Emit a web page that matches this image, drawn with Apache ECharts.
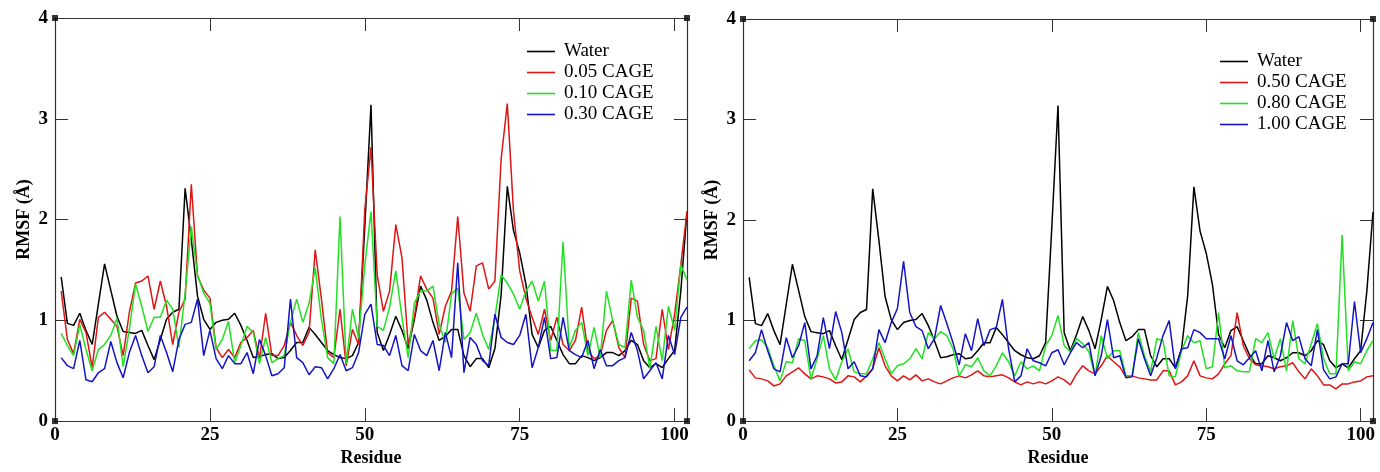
<!DOCTYPE html>
<html>
<head>
<meta charset="utf-8">
<script src="https://cdn.jsdelivr.net/npm/echarts@6/dist/echarts.min.js"></script>
<style>
html,body{margin:0;padding:0;background:#fff;}
#chart{width:1380px;height:472px;}
</style>
</head>
<body>
<div id="chart"></div>
<script>
// ---- data (RMSF in Å per residue 1..102) ----
const xTicks = [0, 25, 50, 75, 100];
const yTicks = [0, 1, 2, 3, 4];
const X_MAX = 102;
const Y_MAX = 4;

const water = [
  1.43,0.97,0.95,1.07,0.90,0.76,1.16,1.56,1.30,1.04,
  0.89,0.88,0.87,0.90,0.75,0.61,0.81,1.01,1.08,1.11,
  2.31,1.80,1.24,1.01,0.91,0.98,1.00,1.01,1.07,0.95,
  0.80,0.63,0.64,0.66,0.67,0.62,0.63,0.70,0.78,0.78,
  0.93,0.86,0.78,0.70,0.66,0.63,0.62,0.65,0.78,1.93,
  3.14,0.88,0.70,0.86,1.04,0.90,0.72,1.01,1.34,1.20,
  0.98,0.80,0.84,0.91,0.91,0.65,0.54,0.62,0.62,0.53,
  0.72,1.25,2.33,1.89,1.67,1.36,0.86,0.73,0.90,0.94,
  0.80,0.66,0.57,0.57,0.65,0.63,0.60,0.63,0.68,0.68,
  0.65,0.70,0.80,0.76,0.60,0.53,0.57,0.53,0.62,0.70,
  1.29,2.08
];
const cage005 = [
  1.29,0.81,0.67,1.01,0.88,0.53,1.03,1.08,1.01,0.94,
  0.65,1.08,1.37,1.39,1.44,1.11,1.39,1.14,0.76,1.08,
  1.21,2.35,1.44,1.30,1.22,0.73,0.63,0.71,0.63,0.78,
  0.83,0.90,0.62,1.07,0.65,0.65,0.75,0.98,0.85,0.75,
  0.88,1.70,1.21,0.68,0.63,1.11,0.55,0.91,0.76,2.10,
  2.72,1.45,1.09,1.29,1.95,1.62,0.76,1.03,1.44,1.31,
  1.22,0.86,1.14,1.29,2.03,1.27,1.09,1.54,1.57,1.31,
  1.39,2.60,3.15,2.08,1.49,1.22,1.03,0.86,1.11,0.80,
  1.03,0.76,0.70,0.80,1.13,0.70,0.62,0.65,0.90,1.00,
  0.73,0.63,1.22,1.19,0.76,0.60,0.62,1.11,0.71,1.06,
  1.55,2.08
];
const cage010 = [
  0.87,0.75,0.65,0.96,0.71,0.50,0.71,0.76,0.85,1.02,
  0.54,0.91,1.36,1.14,0.89,1.03,1.03,1.20,1.11,0.73,
  1.27,1.93,1.45,1.27,1.17,0.71,0.81,0.99,0.58,0.75,
  0.94,0.88,0.57,0.83,0.58,0.62,0.65,0.98,1.21,0.98,
  1.17,1.52,1.01,0.63,0.57,2.03,0.57,1.11,0.82,1.55,
  2.08,0.94,0.90,1.13,1.49,1.03,0.63,1.17,1.29,1.29,
  1.34,0.96,0.78,1.26,1.32,0.81,0.88,1.07,0.86,0.71,
  1.03,1.45,1.37,1.26,1.11,1.29,1.39,1.19,1.39,0.70,
  0.70,1.78,0.73,0.90,0.98,0.65,0.93,0.63,1.29,1.00,
  0.76,0.73,1.40,1.03,0.90,0.52,0.94,0.60,1.14,0.90,
  1.55,1.40
];
const cage030 = [
  0.63,0.55,0.52,0.80,0.41,0.39,0.48,0.52,0.79,0.58,
  0.43,0.68,0.85,0.65,0.48,0.54,0.85,0.68,0.49,0.81,
  0.96,0.98,1.21,0.65,0.90,0.62,0.52,0.65,0.57,0.57,
  0.68,0.47,0.81,0.65,0.45,0.47,0.53,1.21,0.63,0.58,
  0.46,0.54,0.53,0.42,0.52,0.66,0.50,0.53,0.68,1.06,
  1.16,0.76,0.75,0.65,0.85,0.55,0.50,0.86,0.70,0.65,
  0.80,0.50,0.88,0.63,1.57,0.48,0.83,0.76,0.60,0.55,
  1.06,0.83,0.78,0.76,0.85,1.06,0.53,0.73,1.03,0.62,
  0.63,1.03,0.70,0.66,0.63,0.80,0.52,0.71,0.55,0.55,
  0.60,0.63,0.88,0.70,0.42,0.50,0.58,0.42,0.85,0.66,
  1.03,1.13
];
const cage050 = [
  0.51,0.43,0.42,0.40,0.35,0.37,0.45,0.49,0.53,0.47,
  0.42,0.45,0.44,0.42,0.38,0.39,0.45,0.44,0.39,0.45,
  0.52,0.73,0.55,0.45,0.40,0.45,0.41,0.46,0.40,0.42,
  0.39,0.37,0.40,0.43,0.45,0.43,0.46,0.50,0.45,0.44,
  0.45,0.46,0.43,0.39,0.36,0.39,0.37,0.39,0.37,0.40,
  0.44,0.41,0.36,0.47,0.55,0.50,0.47,0.55,0.65,0.59,
  0.54,0.44,0.45,0.43,0.42,0.41,0.41,0.50,0.50,0.36,
  0.39,0.45,0.60,0.45,0.43,0.42,0.47,0.57,0.65,1.08,
  0.75,0.62,0.56,0.55,0.54,0.52,0.54,0.55,0.58,0.49,
  0.42,0.52,0.45,0.36,0.36,0.32,0.37,0.37,0.39,0.40,
  0.44,0.45
];
const cage080 = [
  0.72,0.80,0.81,0.73,0.55,0.40,0.59,0.58,0.82,0.80,
  0.42,0.62,0.85,0.52,0.41,0.59,0.72,0.49,0.47,0.47,
  0.62,0.78,0.62,0.47,0.55,0.57,0.62,0.72,0.62,0.88,
  0.82,0.89,0.85,0.72,0.45,0.56,0.54,0.63,0.50,0.45,
  0.55,0.68,0.59,0.45,0.59,0.52,0.55,0.50,0.75,0.85,
  1.05,0.75,0.69,0.82,0.77,0.69,0.45,0.85,0.62,0.70,
  0.70,0.45,0.45,0.88,0.65,0.49,0.82,0.80,0.45,0.44,
  0.70,0.85,0.78,0.80,0.52,0.54,1.08,0.53,0.55,0.50,
  0.49,0.49,0.82,0.78,0.88,0.62,0.82,0.50,1.00,0.62,
  0.57,0.77,0.97,0.62,0.47,0.47,1.85,0.50,0.59,0.57,
  0.70,0.80
];
const cage100 = [
  0.60,0.68,0.91,0.70,0.52,0.49,0.83,0.63,0.75,0.98,
  0.52,0.65,1.03,0.72,1.09,0.88,0.52,0.59,0.45,0.44,
  0.52,0.91,0.78,0.98,1.12,1.59,1.08,0.94,0.90,0.72,
  0.82,1.15,0.97,0.78,0.56,0.87,0.70,1.02,0.75,0.91,
  0.93,1.21,0.72,0.39,0.45,0.72,0.60,0.58,0.55,0.68,
  0.71,0.56,0.68,0.78,0.73,0.78,0.45,0.65,1.01,0.63,
  0.65,0.43,0.44,0.82,0.62,0.45,0.63,0.85,1.00,0.52,
  0.72,0.73,0.91,0.88,0.82,0.82,0.82,0.62,0.85,0.60,
  0.56,0.63,0.70,0.50,0.80,0.49,0.65,0.98,0.80,0.84,
  0.62,0.55,0.91,0.51,0.42,0.44,0.57,0.57,1.19,0.68,
  0.82,0.98
];

const leftNames = ['Water', '0.05 CAGE', '0.10 CAGE', '0.30 CAGE'];
const rightNames = ['Water', '0.50 CAGE', '0.80 CAGE', '1.00 CAGE'];
const colors = ['#000000', '#dd1515', '#22e022', '#1414c4'];

// ---- build ----
const pairs = arr => arr.map((v, i) => [i + 1, v]);
const FONT = '"Liberation Serif", "DejaVu Serif", serif';
const AX = '#333';

function xAxisPair(gridIndex) {
  return [
    {
      type: 'value', gridIndex, position: 'bottom', min: 0, max: X_MAX, interval: 25,
      name: 'Residue', nameLocation: 'middle', nameGap: 23,
      nameTextStyle: { fontFamily: FONT, fontWeight: 'bold', fontSize: 18, color: '#000' },
      axisLine: { show: true, onZero: false, lineStyle: { color: AX, width: 1.2 } },
      axisTick: { show: true, inside: true, length: 13, customValues: xTicks, lineStyle: { color: AX } },
      axisLabel: { customValues: xTicks, margin: 4, fontFamily: FONT, fontWeight: 'bold', fontSize: 19, color: '#000' },
      splitLine: { show: false }
    },
    {
      type: 'value', gridIndex, position: 'top', min: 0, max: X_MAX, interval: 25,
      axisLine: { show: true, onZero: false, lineStyle: { color: AX, width: 1.2 } },
      axisTick: { show: true, inside: true, length: 13, customValues: xTicks, lineStyle: { color: AX } },
      axisLabel: { show: false },
      splitLine: { show: false }
    }
  ];
}
function yAxisPair(gridIndex) {
  return [
    {
      type: 'value', gridIndex, position: 'left', min: 0, max: Y_MAX, interval: 1,
      name: 'RMSF (Å)', nameLocation: 'middle', nameGap: 22, nameRotate: 90,
      nameTextStyle: { fontFamily: FONT, fontWeight: 'bold', fontSize: 18, color: '#000' },
      axisLine: { show: true, onZero: false, lineStyle: { color: AX, width: 1.2 } },
      axisTick: { show: true, inside: true, length: 13, lineStyle: { color: AX } },
      axisLabel: { margin: 7, fontFamily: FONT, fontWeight: 'bold', fontSize: 19, color: '#000',
                   formatter: v => yTicks.includes(v) ? String(v) : '' },
      splitLine: { show: false }
    },
    {
      type: 'value', gridIndex, position: 'right', min: 0, max: Y_MAX, interval: 1,
      axisLine: { show: true, onZero: false, lineStyle: { color: AX, width: 1.2 } },
      axisTick: { show: true, inside: true, length: 13, lineStyle: { color: AX } },
      axisLabel: { show: false },
      splitLine: { show: false }
    }
  ];
}

function lineSeries(name, data, color, xi, yi) {
  return {
    type: 'line', name, data: pairs(data), xAxisIndex: xi, yAxisIndex: yi,
    symbol: 'none', smooth: false, animation: false,
    lineStyle: { color, width: 1.5 }, itemStyle: { color }
  };
}
function corners(xi, yi) {
  return {
    type: 'scatter', xAxisIndex: xi, yAxisIndex: yi, silent: true, animation: false,
    symbol: 'rect', symbolSize: 6, itemStyle: { color: '#000' }, z: 10,
    data: [[0, 0], [0, Y_MAX], [X_MAX, 0], [X_MAX, Y_MAX]]
  };
}

const leftData = [water, cage005, cage010, cage030];
const rightData = [water, cage050, cage080, cage100];
const series = [];
leftNames.forEach((n, i) => series.push(lineSeries(n, leftData[i], colors[i], 0, 0)));
rightNames.forEach((n, i) => series.push(lineSeries(n, rightData[i], colors[i], 2, 2)));
series.push(corners(0, 0), corners(2, 2));

function legend(names, left, top) {
  return {
    data: names.map((n, i) => ({ name: n, itemStyle: { color: colors[i] } })),
    orient: 'vertical', left, top, icon: 'rect', itemWidth: 28, itemHeight: 1.6,
    itemGap: 2, selectedMode: false,
    textStyle: { fontFamily: FONT, fontSize: 19, color: '#000', padding: [0, 0, 0, 4], lineHeight: 18 }
  };
}

const chart = echarts.init(document.getElementById('chart'), null, { renderer: 'canvas' });
chart.setOption({
  backgroundColor: '#fff',
  animation: false,
  grid: [
    { left: 55, top: 18, width: 632, height: 406 },
    { left: 743, top: 19, width: 630, height: 405 }
  ],
  xAxis: [...xAxisPair(0), ...xAxisPair(1)],
  yAxis: [...yAxisPair(0), ...yAxisPair(1)],
  legend: [legend(leftNames, 522, 37), legend(rightNames, 1215, 47)],
  series
});
</script>
</body>
</html>
